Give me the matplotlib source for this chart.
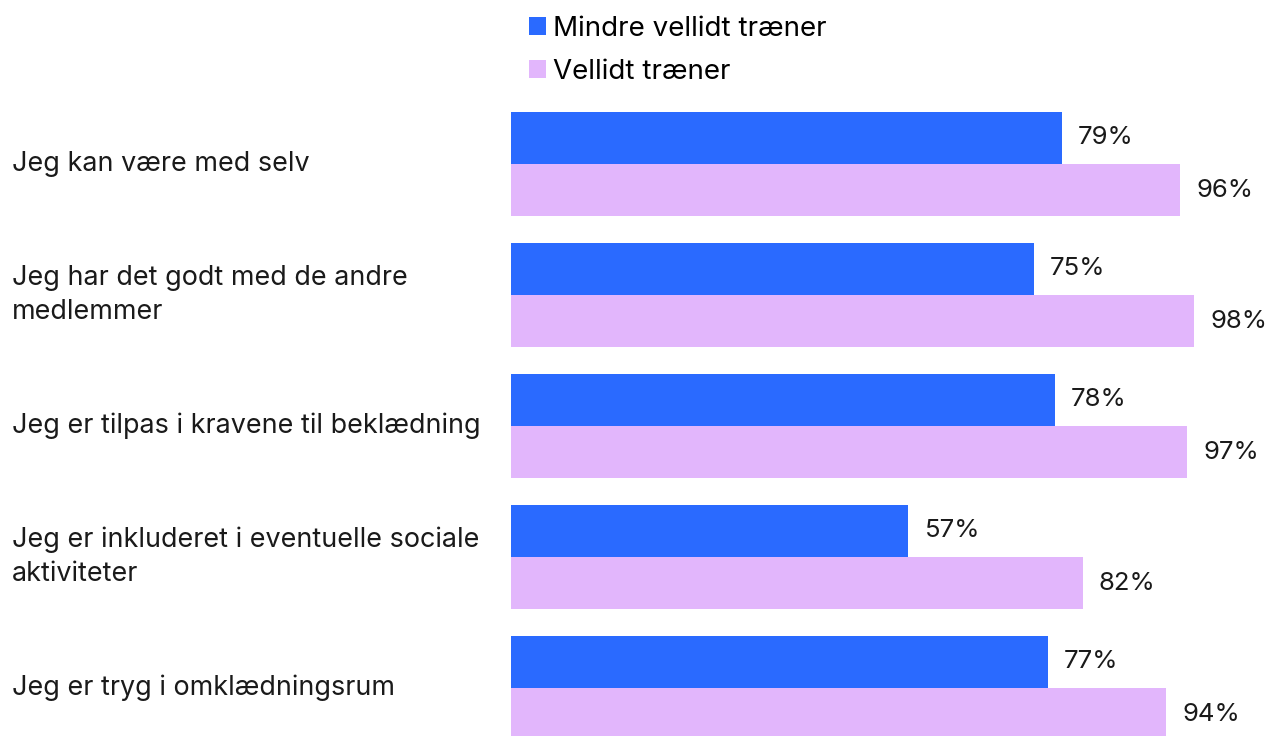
import matplotlib.pyplot as plt
import numpy as np

categories = [
    "Jeg kan være med selv",
    "Jeg har det godt med de andre\nmedlemmer",
    "Jeg er tilpas i kravene til beklædning",
    "Jeg er inkluderet i eventuelle sociale\naktiviteter",
    "Jeg er tryg i omklædningsrum",
]
less_liked = [79, 75, 78, 57, 77]
liked = [96, 98, 97, 82, 94]
series_names = ["Mindre vellidt træner", "Vellidt træner"]

blue = "#2a6aff"
lavender = "#e2b6fc"
text_col = "#1a1a1a"

plt.rcParams['font.family'] = ['Inter', 'DejaVu Sans']

W, H = 1265, 736
fig = plt.figure(figsize=(W / 100, H / 100), dpi=100)
# axes placed in pixel units: x from 511 to right edge, y from 100 down to bottom
ax = fig.add_axes([511 / W, 0, (W - 511) / W, 636 / H])

y = np.arange(len(categories))
h = 0.397
ax.barh(y - h / 2, less_liked, height=h, color=blue, label=series_names[0])
ax.barh(y + h / 2, liked, height=h, color=lavender, label=series_names[1])

ax.set_xlim(0, (W - 511) / 6.97)
ax.set_ylim((736 - 164) / 131, (100 - 164) / 131)

for i in range(len(categories)):
    ax.text(less_liked[i] + 2.35, y[i] - h / 2, f"{less_liked[i]}%",
            va='center', ha='left', fontsize=18.5, color=text_col)
    ax.text(liked[i] + 2.35, y[i] + h / 2, f"{liked[i]}%",
            va='center', ha='left', fontsize=18.5, color=text_col)
    # category label on the far left of the figure
    ax.annotate(categories[i], xy=(0, y[i]), xycoords=('figure pixels', 'data'),
                xytext=(12, 0), textcoords='offset pixels',
                va='center', ha='left', fontsize=19.4, color=text_col,
                linespacing=1.4)

ax.axis('off')

fig.legend(loc='upper left', bbox_to_anchor=(529 / W, 1 - 16 / H),
           frameon=False, fontsize=20, handlelength=0.61, handleheight=0.61,
           handletextpad=0.25, labelspacing=0.6, borderaxespad=0, borderpad=0)

fig.savefig("out.png", dpi=100, facecolor='white')
